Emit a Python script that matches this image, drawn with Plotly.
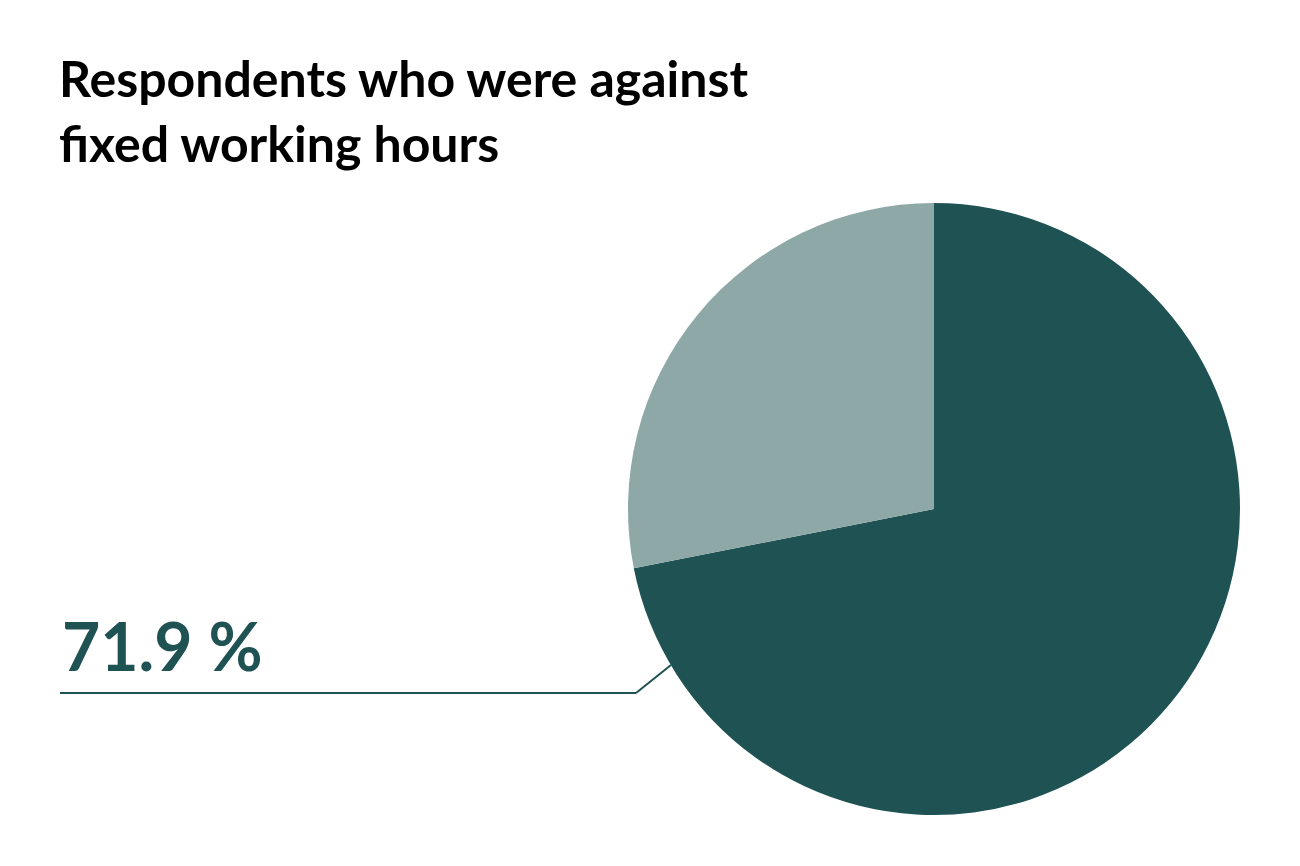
import plotly.graph_objects as go

# data
labels = ["Against fixed working hours", "Other"]
values = [71.9, 28.1]
colors = ["#1f5253", "#8ea8a7"]
title_text = "Respondents who were against<br>fixed working hours"
label_text = "71.9 %"

W, H = 1300, 866

fig = go.Figure()

fig.add_trace(go.Pie(
    labels=labels,
    values=values,
    sort=False,
    direction="clockwise",
    rotation=0,
    marker=dict(colors=colors, line=dict(width=0)),
    textinfo="none",
    hoverinfo="label+value",
    showlegend=False,
    domain=dict(x=[628 / W, 1240 / W], y=[1 - 815 / H, 1 - 203 / H]),
))

# leader line from the value label to the pie edge
fig.add_shape(type="line", xref="paper", yref="paper",
              x0=60 / W, y0=1 - 693 / H, x1=636 / W, y1=1 - 693 / H,
              line=dict(color=colors[0], width=2))
fig.add_shape(type="line", xref="paper", yref="paper",
              x0=636 / W, y0=1 - 693 / H, x1=671 / W, y1=1 - 665 / H,
              line=dict(color=colors[0], width=2))

fig.add_annotation(
    x=60 / W, y=1 - 687 / H, xref="paper", yref="paper",
    text=f"<b>{label_text}</b>", showarrow=False,
    xanchor="left", yanchor="bottom",
    font=dict(family="Lato", size=66, color=colors[0]),
)

fig.update_layout(
    width=W, height=H,
    margin=dict(l=0, r=0, t=0, b=0),
    paper_bgcolor="white",
    plot_bgcolor="white",
    title=dict(
        text=f"<b>{title_text}</b>",
        x=59 / W, xanchor="left",
        y=1 - 97 / H, yanchor="top",
        font=dict(family="Lato", size=50, color="black"),
    ),
)

fig.write_html("out.html", config={"displayModeBar": False},
               post_script="document.body.style.margin='0';")
